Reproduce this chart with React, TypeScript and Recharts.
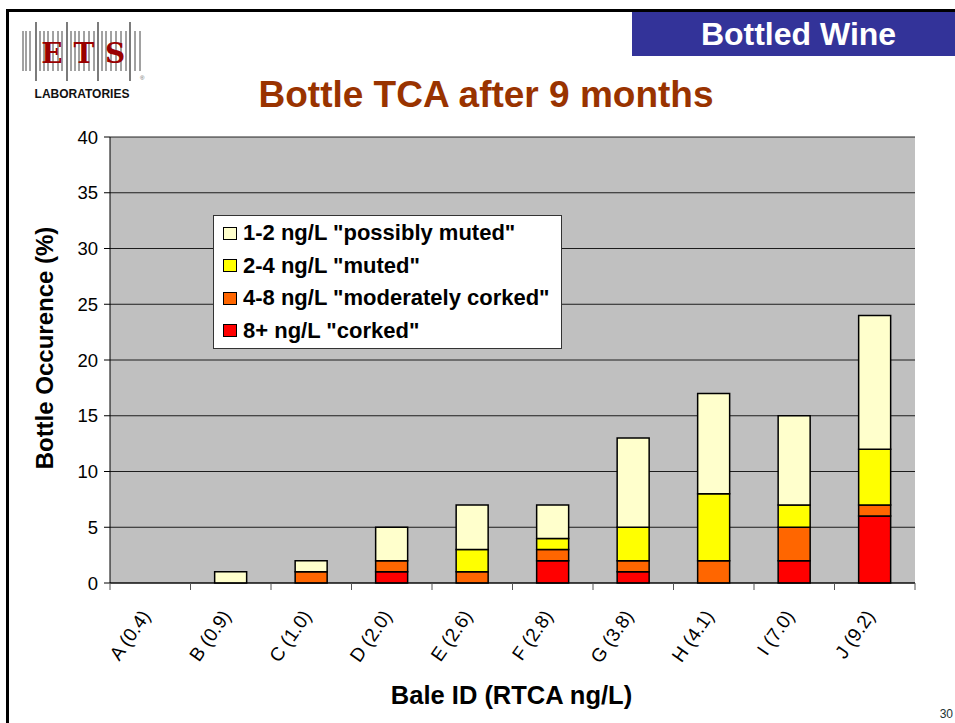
import { Bar, BarChart, CartesianGrid, Legend, XAxis, YAxis } from "recharts";

const categories = [
  "A (0.4)",
  "B (0.9)",
  "C (1.0)",
  "D (2.0)",
  "E (2.6)",
  "F (2.8)",
  "G (3.8)",
  "H (4.1)",
  "I (7.0)",
  "J (9.2)",
];
const corked = [0, 0, 0, 1, 0, 2, 1, 0, 2, 6];
const moderatelyCorked = [0, 0, 1, 1, 1, 1, 1, 2, 3, 1];
const muted = [0, 0, 0, 0, 2, 1, 3, 6, 2, 5];
const possiblyMuted = [0, 1, 1, 3, 4, 3, 8, 9, 8, 12];
const yTicks = [0, 5, 10, 15, 20, 25, 30, 35, 40];

const data = categories.map((name, i) => ({
  name,
  corked: corked[i],
  moderate: moderatelyCorked[i],
  muted: muted[i],
  possibly: possiblyMuted[i],
}));

// bottom of the stack first
const series = [
  { key: "corked", label: '8+ ng/L "corked"', color: "#FF0000" },
  { key: "moderate", label: '4-8 ng/L "moderately corked"', color: "#FF6600" },
  { key: "muted", label: '2-4 ng/L "muted"', color: "#FFFF00" },
  { key: "possibly", label: '1-2 ng/L "possibly muted"', color: "#FFFFCC" },
];

const FONT = "'Liberation Sans', Arial, sans-serif";

// logo bar lines: [x, tall]
const logoLines: [number, boolean][] = [
  [23, false], [26, false], [30, false], [36, true], [40, false], [44, false],
  [48, false], [53, false], [58, false], [62, false], [67, true], [71, false],
  [75, false], [79, false], [84, false], [89, false], [94, false], [98, true],
  [102, false], [106, false], [111, false], [116, false], [121, false],
  [126, false], [130, true], [135, false], [140, false],
];

function Logo() {
  return (
    <svg width={160} height={110} style={{ position: "absolute", left: 0, top: 0 }}>
      {logoLines.map(([x, tall]) => (
        <line
          key={x}
          x1={x}
          x2={x}
          y1={tall ? 22 : 31}
          y2={tall ? 81 : 71}
          stroke="#444"
          strokeWidth={tall ? 1.4 : 1}
        />
      ))}
      {[
        ["E", 52],
        ["T", 84],
        ["S", 115],
      ].map(([c, x]) => (
        <text
          key={c}
          x={x}
          y={63}
          textAnchor="middle"
          fontFamily="'DejaVu Serif', serif"
          fontWeight="bold"
          fontSize={28}
          fill="#990000"
        >
          {c}
        </text>
      ))}
      <text x={140} y={80} fontSize={6} fill="#666" fontFamily={FONT}>
        ®
      </text>
      <text x={82} y={98} textAnchor="middle" fontSize={12} fontWeight="bold" fontFamily={FONT} fill="#111">
        LABORATORIES
      </text>
    </svg>
  );
}

function XTick(props: any) {
  const { x, y, payload, index } = props;
  const half = payload && payload.offset ? payload.offset : 40.25;
  const axisY = 583;
  return (
    <g>
      <line x1={x - half} x2={x - half} y1={axisY} y2={axisY + 7} stroke="#555" />
      {index === categories.length - 1 && (
        <line x1={x + half} x2={x + half} y1={axisY} y2={axisY + 7} stroke="#555" />
      )}
      <text
        transform={`translate(${x + 1},${y + 25}) rotate(-55)`}
        textAnchor="end"
        fontSize={19}
        fontFamily={FONT}
        fill="#000"
      >
        {payload.value}
      </text>
    </g>
  );
}

function LegendBox() {
  return (
    <div
      style={{
        width: 349,
        height: 134,
        background: "#fff",
        border: "1px solid #333",
        boxSizing: "border-box",
        padding: "1px 0 0 9px",
        fontFamily: FONT,
        fontWeight: "bold",
        fontSize: 22,
        color: "#000",
      }}
    >
      {[...series].reverse().map((s) => (
        <div key={s.key} style={{ display: "flex", alignItems: "center", height: 32.5 }}>
          <span
            style={{
              display: "inline-block",
              width: 12,
              height: 11,
              background: s.color,
              border: "1px solid #000",
              marginRight: 6,
            }}
          />
          <span style={{ whiteSpace: "nowrap" }}>{s.label}</span>
        </div>
      ))}
    </div>
  );
}

export default function App() {
  return (
    <div
      style={{
        position: "absolute",
        left: 0,
        top: 0,
        width: 955,
        height: 723,
        background: "#fff",
        overflow: "hidden",
        fontFamily: FONT,
      }}
    >
      <BarChart
        width={955}
        height={723}
        data={data}
        margin={{ top: 137, right: 40, left: 50, bottom: 0 }}
        barCategoryGap="30%"
      >
        <CartesianGrid vertical={false} fill="#C0C0C0" stroke="#000" strokeOpacity={0.85} />
        <XAxis
          dataKey="name"
          height={140}
          interval={0}
          tickLine={false}
          tickSize={6}
          tickMargin={2}
          axisLine={{ stroke: "#000" }}
          tick={<XTick />}
          label={{
            content: (p: any) => {
              const vb = p.viewBox || { x: 110, y: 583, width: 805 };
              return (
                <text
                  x={vb.x + vb.width / 2 - 1}
                  y={vb.y + 121}
                  textAnchor="middle"
                  fontSize={25.5}
                  fontWeight="bold"
                  fontFamily={FONT}
                  fill="#000"
                >
                  Bale ID (RTCA ng/L)
                </text>
              );
            },
          }}
        />
        <YAxis
          width={60}
          domain={[0, 40]}
          ticks={yTicks}
          interval={0}
          tickSize={6}
          tickMargin={6}
          axisLine={{ stroke: "#000" }}
          tickLine={{ stroke: "#000" }}
          tick={{ fontSize: 18.5, fill: "#000", fontFamily: FONT }}
          label={{
            content: (p: any) => {
              const vb = p.viewBox || { x: 50, y: 137, height: 446 };
              const cy = vb.y + vb.height / 2 - 12;
              return (
                <text
                  transform={`translate(${vb.x + 3},${cy}) rotate(-90)`}
                  textAnchor="middle"
                  fontSize={24}
                  fontWeight="bold"
                  fontFamily={FONT}
                  fill="#000"
                >
                  Bottle Occurence (%)
                </text>
              );
            },
          }}
        />
        <Legend
          layout="vertical"
          align="center"
          verticalAlign="middle"
          content={() => <LegendBox />}
          wrapperStyle={{ left: 213, top: 215, width: 349, bottom: "auto" }}
        />
        {series.map((s) => (
          <Bar
            key={s.key}
            dataKey={s.key}
            name={s.label}
            stackId="a"
            fill={s.color}
            stroke="#000"
            strokeWidth={1.5}
            isAnimationActive={false}
          />
        ))}
      </BarChart>

      {/* slide frame */}
      <div style={{ position: "absolute", left: 6, top: 9, width: 949, height: 3, background: "#000" }} />
      <div style={{ position: "absolute", left: 6, top: 9, width: 3, height: 714, background: "#000" }} />
      <div
        style={{
          position: "absolute",
          left: 632,
          top: 12,
          width: 323,
          height: 44,
          background: "#333399",
          color: "#fff",
          fontWeight: "bold",
          fontSize: 32,
          lineHeight: "44px",
          textAlign: "center",
          paddingLeft: 10,
          boxSizing: "border-box",
        }}
      >
        Bottled Wine
      </div>
      <Logo />
      <div
        style={{
          position: "absolute",
          left: 0,
          top: 74,
          width: 972,
          textAlign: "center",
          color: "#993300",
          fontWeight: "bold",
          fontSize: 37,
          lineHeight: "42px",
        }}
      >
        Bottle TCA after 9 months
      </div>
      <div
        style={{
          position: "absolute",
          right: 2,
          top: 707,
          fontSize: 12,
          color: "#223333",
        }}
      >
        30
      </div>
    </div>
  );
}
